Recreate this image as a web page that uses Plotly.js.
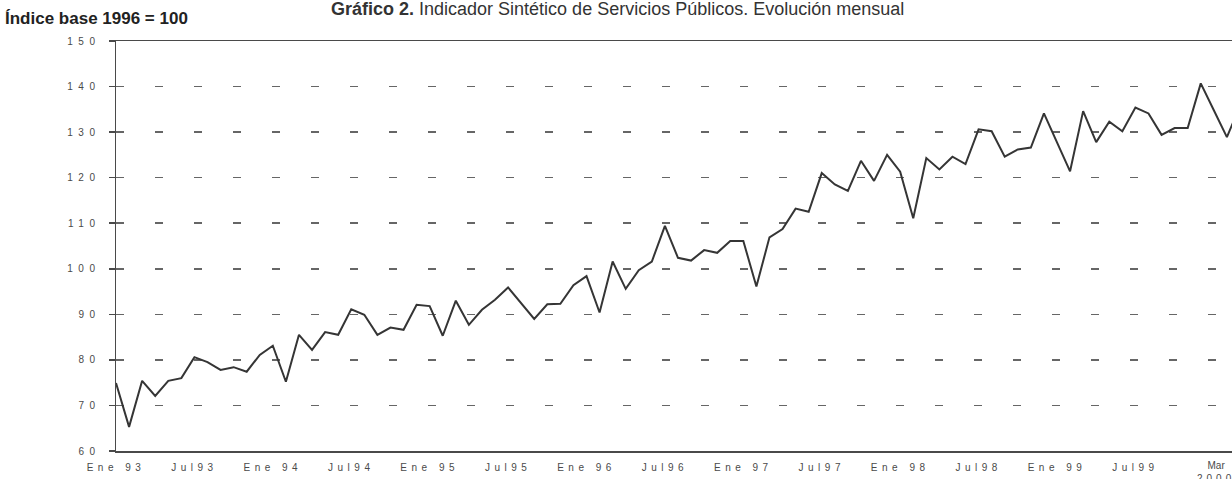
<!DOCTYPE html>
<html>
<head>
<meta charset="utf-8">
<script src="https://cdn.plot.ly/plotly-3.0.1.min.js"></script>
<style>
  html, body { margin: 0; padding: 0; background: #ffffff; overflow: hidden; }
  #chart { width: 1232px; height: 479px; }
  .xtick text { letter-spacing: 4.5px; }
  .ytick text { letter-spacing: 5.5px; }
</style>
</head>
<body>
<div id="chart"></div>
<script>
// Monthly periods: Ene 93 ... Mar 2000 (87 months)
const months = ["Ene","Feb","Mar","Abr","May","Jun","Jul","Ago","Sep","Oct","Nov","Dic"];
const years = ["93","94","95","96","97","98","99","00"];
const periods = [];
for (let y = 0; y < years.length; y++) {
  for (let m = 0; m < 12; m++) {
    if (y === 7 && m > 2) break;
    periods.push(months[m] + " " + years[y]);
  }
}

// Índice base 1996 = 100
const indexValues = [
  74.9, 65.3, 75.4, 72.1, 75.4, 76.0, 80.6, 79.5, 77.8, 78.4, 77.4, 81.1,
  83.1, 75.2, 85.5, 82.2, 86.1, 85.5, 91.1, 89.9, 85.5, 87.1, 86.6, 92.1,
  91.8, 85.3, 93.0, 87.7, 91.0, 93.2, 95.9, 92.4, 89.0, 92.2, 92.3, 96.4,
  98.4, 90.4, 101.6, 95.6, 99.7, 101.6, 109.4, 102.4, 101.8, 104.1, 103.5, 106.1,
  106.1, 96.1, 106.9, 108.7, 113.2, 112.5, 121.0, 118.5, 117.1, 123.7, 119.3, 125.0,
  121.3, 111.1, 124.3, 121.8, 124.6, 123.0, 130.6, 130.2, 124.6, 126.2, 126.6, 134.1,
  127.8, 121.4, 134.6, 127.8, 132.3, 130.2, 135.4, 134.1, 129.4, 130.9, 130.9, 140.7,
  134.8, 128.9, 135.7
];

const tickPeriods = ["Ene 93","Jul 93","Ene 94","Jul 94","Ene 95","Jul 95","Ene 96","Jul 96","Ene 97","Jul 97","Ene 98","Jul 98","Ene 99","Jul 99"];
const tickLabels  = ["Ene 93","Jul93","Ene 94","Jul94","Ene 95","Jul95","Ene 96","Jul96","Ene 97","Jul97","Ene 98","Jul98","Ene 99","Jul99"];
const yTicks = [60, 70, 80, 90, 100, 110, 120, 130, 140, 150];

const xIdx = periods.map((p, i) => i);
const tickVals = tickPeriods.map(p => periods.indexOf(p));

const trace = {
  x: xIdx,
  y: indexValues,
  text: periods,
  type: "scatter",
  mode: "lines",
  line: { color: "#353535", width: 2 },
  hovertemplate: "%{text}: %{y}<extra></extra>"
};

const layout = {
  width: 1232,
  height: 479,
  margin: { l: 116, r: 0, t: 41, b: 28 },
  paper_bgcolor: "#ffffff",
  plot_bgcolor: "#ffffff",
  showlegend: false,
  font: { family: "Liberation Sans, Arial, sans-serif", color: "#444" },
  xaxis: {
    range: [0, 85.39],
    tickmode: "array",
    tickvals: tickVals,
    ticktext: tickLabels,
    showgrid: false,
    zeroline: false,
    showline: true,
    mirror: true,
    linecolor: "#4a4a4a",
    linewidth: 1.5,
    ticks: "",
    ticklabelstandoff: 6,
    tickfont: { size: 10, color: "#4a4a4a", family: "Liberation Sans, Arial, sans-serif" },
    fixedrange: true
  },
  yaxis: {
    range: [60, 150],
    tickmode: "array",
    tickvals: yTicks,
    showgrid: true,
    gridcolor: "#666666",
    gridwidth: 1.5,
    griddash: "8px,31px",
    zeroline: false,
    showline: true,
    linecolor: "#4a4a4a",
    linewidth: 1.5,
    ticks: "outside",
    ticklen: 6,
    tickwidth: 1.5,
    tickcolor: "#4a4a4a",
    ticklabelstandoff: 6,
    tickfont: { size: 10, color: "#4a4a4a", family: "Liberation Sans, Arial, sans-serif" },
    fixedrange: true
  },
  annotations: [
    {
      xref: "paper", yref: "paper",
      x: 0.449, y: 1.079,
      xanchor: "center", yanchor: "middle",
      text: "<b>Gráfico 2.</b> Indicador Sintético de Servicios Públicos. Evolución mensual",
      showarrow: false,
      font: { size: 18, color: "#333", family: "Liberation Sans, Arial, sans-serif" }
    },
    {
      xref: "paper", yref: "paper",
      x: -0.1013, y: 1.0537,
      xanchor: "left", yanchor: "middle",
      text: "<b>Índice base 1996 = 100</b>",
      showarrow: false,
      font: { size: 17, color: "#222", family: "Liberation Sans Narrow, Arial Narrow, Liberation Sans, Arial, sans-serif" }
    },
    {
      xref: "paper", yref: "paper",
      x: 0.9857, y: -0.016,
      xanchor: "center", yanchor: "top",
      align: "center",
      text: "Mar<br><span style=\"letter-spacing:4px\">2000</span>",
      showarrow: false,
      font: { size: 10, color: "#4a4a4a", family: "Liberation Sans, Arial, sans-serif" }
    }
  ]
};

Plotly.newPlot("chart", [trace], layout, { displayModeBar: false, staticPlot: true });
</script>
</body>
</html>
